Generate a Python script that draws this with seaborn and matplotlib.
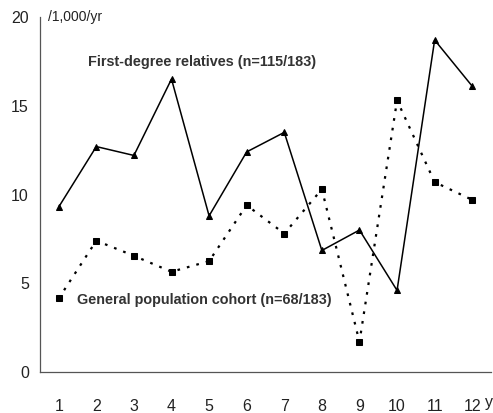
import matplotlib
matplotlib.use("Agg")
import matplotlib.pyplot as plt
import seaborn as sns
import pandas as pd
import numpy as np

years = [1, 2, 3, 4, 5, 6, 7, 8, 9, 10, 11, 12]
first_degree = [9.3, 12.7, 12.2, 16.5, 8.8, 12.4, 13.5, 6.85, 8.0, 4.6, 18.7, 16.1]
general_pop = [4.15, 7.4, 6.55, 5.65, 6.25, 9.4, 7.8, 10.3, 1.7, 15.3, 10.7, 9.7]
yticks = [0, 5, 10, 15, 20]

sns.set_style("white")
plt.rcParams['font.family'] = ['Liberation Sans', 'DejaVu Sans']

fig = plt.figure(figsize=(4.93, 4.13), dpi=100)
ax = fig.add_axes([0.081, 0.099, 0.915, 0.860])

df = pd.DataFrame({"year": years, "first": first_degree, "general": general_pop})

sns.lineplot(data=df, x="year", y="first", ax=ax, color="black", lw=1.1,
             marker="^", markersize=4.5, markeredgecolor="black", markerfacecolor="black")
sns.lineplot(data=df, x="year", y="general", ax=ax, color="black", lw=1.6,
             linestyle=(0, (1.2, 3.2)), marker="s", markersize=4.5,
             markeredgecolor="black", markerfacecolor="black")

ax.set_xlim(0.5, 12.5)
ax.set_ylim(0, 20)
ax.set_yticks(yticks)
ax.set_yticklabels([str(v) for v in yticks], fontsize=11.5, color="#222222")
ax.set_xticks(np.arange(0.5, 13, 1.0))
ax.set_xticklabels([])
ax.set_xticks(years, minor=True)
ax.set_xticklabels([str(y) for y in years], minor=True, fontsize=11.5, color="#222222")
ax.tick_params(axis="x", which="major", direction="out", length=6, width=0.9, color="#555555")
ax.tick_params(axis="x", which="minor", length=0, pad=19)
ax.tick_params(axis="y", direction="out", length=6, width=0.9, color="#555555", pad=2)
ax.set_xlabel("")
ax.set_ylabel("")
for s in ["top", "right"]:
    ax.spines[s].set_visible(False)
for s in ["left", "bottom"]:
    ax.spines[s].set_color("#555555")
    ax.spines[s].set_linewidth(0.9)

fig.text(48/493, 1-17/413, "/1,000/yr", fontsize=10, color="#222222", va="center", ha="left")
fig.text(88/493, 1-62/413, "First-degree relatives (n=115/183)", fontsize=10.4,
         color="#333333", fontweight="bold", ha="left", va="center")
fig.text(77/493, 1-300/413, "General population cohort (n=68/183)", fontsize=10.4,
         color="#333333", fontweight="bold", ha="left", va="center")
fig.text(485/493, 1-403/413, "y", fontsize=11.5, color="#222222", ha="left", va="center")

fig.savefig("out.png", dpi=100)
